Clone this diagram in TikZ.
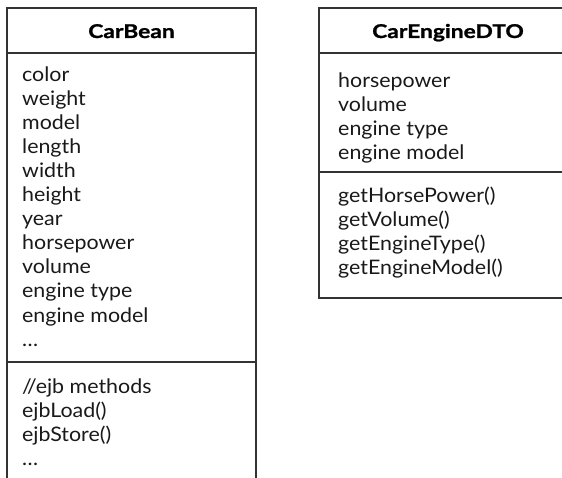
\documentclass[tikz,border=0pt]{standalone}
\usepackage{fontspec}
\setmainfont{Lato}[FakeStretch=1.07]
\newfontfamily\clstitlefont{Lato}[FakeStretch=1.2,FakeBold=1.2]
\begin{document}
\begin{tikzpicture}[x=1pt,y=-1pt,
  boxline/.style={draw=black!80, line width=1.4pt},
  member/.style={anchor=base west, inner sep=0pt, font=\fontsize{20}{24}\selectfont, text=black!90},
  ctitle/.style={anchor=base, inner sep=0pt, font=\clstitlefont\fontsize{19}{24}\selectfont\bfseries, text=black}]
\useasboundingbox (0,0) rectangle (562,478);
\clip (0,0) rectangle (562,478);
% CarBean
\coordinate (cbTL) at (7,8);
\coordinate (cbTR) at (256,8);
\coordinate (cbBL) at (7,480);
\coordinate (cbBR) at (256,480);
\coordinate (cbH1) at (7,53);
\coordinate (cbH1r) at (256,53);
\coordinate (cbS1) at (7,362);
\coordinate (cbS1r) at (256,362);
\draw[boxline] (cbBL) -- (cbTL) -- (cbTR) -- (cbBR);
\draw[boxline] (cbH1) -- (cbH1r);
\draw[boxline] (cbS1) -- (cbS1r);
\node[ctitle] (cbtitle) at (131.5,38) {CarBean};
\foreach \t [count=\i from 0] in {color,weight,model,length,width,height,year,horsepower,volume,engine type,engine model,\dots}
  \node[member] (cba\i) at (22,82+24*\i) {\t};
\foreach \t [count=\i from 0] in {//ejb methods,ejbLoad(),ejbStore(),\dots}
  \node[member] (cbm\i) at (22,393+24*\i) {\t};
% CarEngineDTO
\coordinate (dTL) at (319,8);
\coordinate (dTR) at (580,8);
\coordinate (dBL) at (319,298);
\coordinate (dBR) at (580,298);
\coordinate (dH1) at (319,53);
\coordinate (dH1r) at (580,53);
\coordinate (dS1) at (319,172);
\coordinate (dS1r) at (580,172);
\draw[boxline] (dTR) -- (dTL) -- (dBL) -- (dBR);
\draw[boxline] (dH1) -- (dH1r);
\draw[boxline] (dS1) -- (dS1r);
\node[ctitle] (dtitle) at (448,38) {CarEngineDTO};
\foreach \t [count=\i from 0] in {horsepower,volume,engine type,engine model}
  \node[member] (da\i) at (338,88+24*\i) {\t};
\foreach \t [count=\i from 0] in {getHorsePower(),getVolume(),getEngineType(),getEngineModel()}
  \node[member] (dm\i) at (338,203+24*\i) {\t};
\end{tikzpicture}
\end{document}
